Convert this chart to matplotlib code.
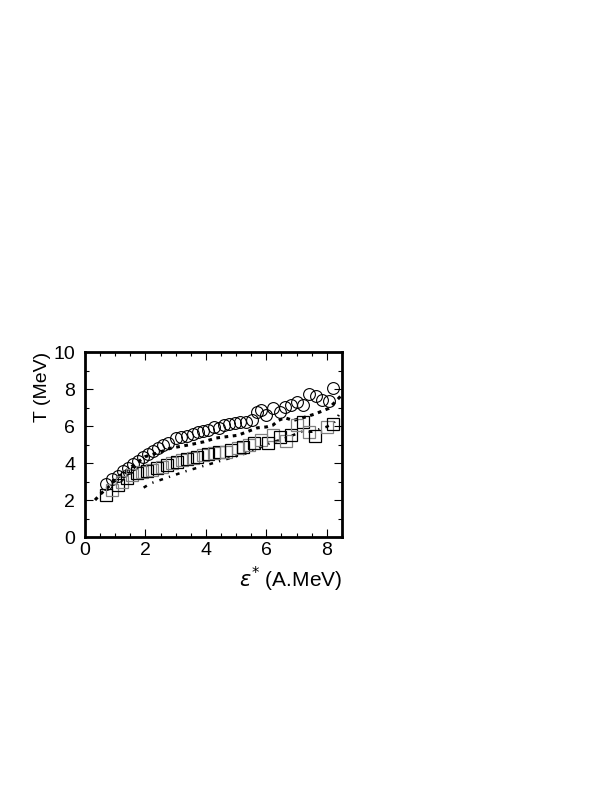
import numpy as np
import matplotlib.pyplot as plt
from matplotlib.ticker import MultipleLocator

plt.rcParams['font.family'] = ['Liberation Sans', 'DejaVu Sans']

# circles (upper data)
circ_x = [0.69, 0.89, 1.09, 1.26, 1.42, 1.59, 1.76, 1.92, 2.09, 2.26, 2.42, 2.59, 2.76,
          3.0, 3.17, 3.37, 3.56, 3.74, 3.92, 4.08, 4.26, 4.44, 4.61, 4.78, 4.97, 5.14,
          5.33, 5.52, 5.7, 5.83, 6.0, 6.22, 6.44, 6.61, 6.83, 7.0, 7.22, 7.42, 7.64,
          7.83, 8.06, 8.22]
circ_y = [2.85, 3.12, 3.32, 3.55, 3.75, 3.93, 4.13, 4.31, 4.49, 4.67, 4.79, 4.97, 5.10,
          5.33, 5.42, 5.48, 5.55, 5.66, 5.73, 5.78, 5.96, 5.91, 6.05, 6.09, 6.14, 6.2,
          6.23, 6.32, 6.77, 6.86, 6.59, 6.95, 6.74, 7.04, 7.14, 7.31, 7.14, 7.71, 7.64,
          7.41, 7.35, 8.07]

# squares (lower data)
sq_x = [0.69, 0.89, 1.08, 1.24, 1.39, 1.56, 1.72, 1.89, 2.06, 2.22, 2.39, 2.56, 2.72,
        2.89, 3.06, 3.22, 3.39, 3.56, 3.72, 3.89, 4.06, 4.28, 4.44, 4.67, 4.83, 5.06,
        5.22, 5.44, 5.59, 5.83, 6.06, 6.22, 6.44, 6.64, 6.83, 7.03, 7.22, 7.41, 7.61,
        8.0, 8.22]
sq_y = [2.27, 2.54, 2.81, 2.99, 3.17, 3.35, 3.44, 3.53, 3.59, 3.62, 3.71, 3.80, 3.89,
        3.98, 4.07, 4.16, 4.2, 4.25, 4.34, 4.43, 4.49, 4.52, 4.61, 4.61, 4.7, 4.79,
        4.85, 4.97, 5.06, 5.24, 5.06, 5.51, 5.42, 5.21, 5.51, 6.05, 6.23, 5.69, 5.46,
        5.96, 6.11]

# dotted curve
dot_x = [0.33, 0.5, 0.83, 1.1, 1.5, 2.0, 2.5, 2.83, 3.5, 3.94, 4.33, 5.06, 5.7, 6.0,
         6.22, 6.4, 6.61, 6.89, 7.22, 7.61, 8.06, 8.28, 8.45]
dot_y = [2.0, 2.3, 2.8, 3.25, 3.75, 4.35, 4.6, 4.8, 5.0, 5.15, 5.35, 5.5, 5.9, 5.95,
         6.05, 6.3, 6.45, 6.3, 6.45, 6.65, 6.95, 7.3, 7.6]

# dash-dot curve
dd_x = [1.94, 2.17, 3.28, 4.39, 5.5, 5.61, 6.17, 6.61, 7.17, 7.5, 8.0, 8.22, 8.4]
dd_y = [2.67, 2.9, 3.53, 4.07, 4.61, 4.74, 5.1, 5.33, 5.69, 5.69, 5.96, 6.14, 6.6]

fig = plt.figure(figsize=(6.13, 7.93), dpi=100)
ax = fig.add_axes([0.1387, 0.3228, 0.419, 0.2333])

ax.plot(dot_x, dot_y, color='black', lw=2.2, ls=(0, (1.2, 1.5)))
ax.plot(dd_x, dd_y, color='black', lw=1.8, ls=(0, (1.5, 2.5, 0.5, 2.5)))
ax.plot(circ_x, circ_y, 'o', ms=8.5, mfc='none', mec='black', mew=0.8)
sq_col = ['black' if i % 2 == 0 else '#808080' for i in range(len(sq_x))]
for x, y, c in zip(sq_x, sq_y, sq_col):
    ax.plot(x, y, 's', ms=8, mfc='none', mec=c, mew=0.9)

ax.set_xlim(0, 8.5)
ax.set_ylim(0, 10)
ax.xaxis.set_major_locator(MultipleLocator(2))
ax.xaxis.set_minor_locator(MultipleLocator(0.5))
ax.yaxis.set_major_locator(MultipleLocator(2))
ax.yaxis.set_minor_locator(MultipleLocator(1))
ax.tick_params(which='both', direction='in', top=True, right=True, width=0.8)
ax.tick_params(which='major', length=6, labelsize=14)
ax.tick_params(which='minor', length=3)
ax.tick_params(axis='y', pad=7)
for s in ax.spines.values():
    s.set_linewidth(2)

ax.set_ylabel('T (MeV)', fontsize=14, loc='top', labelpad=2)
ax.set_xlabel(r'$\varepsilon^{*}$ (A.MeV)', fontsize=15, loc='right')

fig.savefig('out.png', dpi=100)
